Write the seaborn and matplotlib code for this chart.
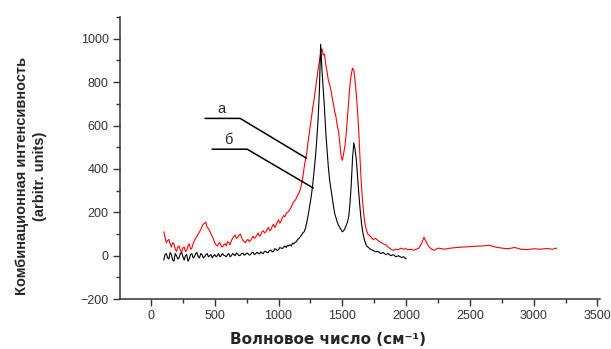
import seaborn as sns
import matplotlib.pyplot as plt
from matplotlib.ticker import MultipleLocator
import pandas as pd

# Raman spectrum, curve "а" (red)
wave_a = [100, 110, 120, 130, 140, 150, 160, 170, 180, 190,
          200, 210, 220, 230, 240, 250, 260, 270, 280, 290,
          300, 310, 320, 330, 340, 350, 360, 370, 380, 390,
          400, 410, 420, 430, 440, 450, 460, 470, 480, 490,
          500, 510, 520, 530, 540, 550, 560, 570, 580, 590,
          600, 610, 620, 630, 640, 650, 660, 670, 680, 690,
          700, 710, 720, 730, 740, 750, 760, 770, 780, 790,
          800, 810, 820, 830, 840, 850, 860, 870, 880, 890,
          900, 910, 920, 930, 940, 950, 960, 970, 980, 990,
          1000, 1010, 1020, 1030, 1040, 1050, 1060, 1070, 1080, 1090,
          1100, 1110, 1120, 1130, 1140, 1150, 1160, 1170, 1180, 1190,
          1200, 1210, 1220, 1230, 1240, 1250, 1260, 1270, 1280, 1290, 1300, 1310, 1320,
          1330, 1340, 1350, 1360, 1370, 1380, 1390, 1400, 1410, 1420, 1430, 1440, 1450,
          1460, 1470, 1480, 1490, 1500, 1510, 1520, 1530, 1540, 1550, 1560, 1570, 1580,
          1590, 1600, 1610, 1620, 1630, 1640, 1650, 1660, 1670, 1680, 1690, 1700,
          1720, 1740, 1760, 1780, 1800, 1820, 1840, 1860, 1880, 1900, 1920, 1940, 1960,
          1980, 2000, 2020, 2040, 2060, 2080, 2100, 2120, 2140, 2160, 2180, 2200, 2220,
          2250, 2300, 2350, 2400, 2450, 2500, 2550, 2600, 2650, 2700, 2750, 2800, 2850,
          2900, 2950, 3000, 3050, 3100, 3150, 3180]
int_a = [110, 85, 60, 70, 75, 55, 40, 60, 55, 30,
         20, 40, 45, 25, 15, 35, 40, 20, 25, 45,
         55, 30, 35, 55, 70, 80, 90, 100, 110, 120,
         135, 145, 150, 155, 130, 125, 115, 100, 90, 75,
         60, 50, 45, 55, 60, 45, 40, 50, 55, 45,
         65, 60, 50, 70, 80, 90, 95, 80, 85, 95,
         100, 85, 70, 65, 60, 70, 75, 65, 70, 80,
         90, 80, 85, 95, 105, 90, 95, 110, 115, 105,
         110, 120, 130, 115, 120, 135, 145, 130, 140, 155,
         165, 150, 160, 175, 185, 180, 195, 200, 205, 215,
         225, 240, 250, 255, 265, 280, 290, 305, 330, 360,
         405, 440, 470, 520, 560, 605, 645, 690, 725, 770, 815, 860, 895,
         935, 955, 925, 930, 880, 850, 810, 790, 765, 730, 700, 665, 640,
         600, 575, 520, 460, 440, 470, 505, 560, 640, 715, 790, 835, 865,
         855, 805, 740, 660, 560, 430, 320, 240, 180, 140, 115, 100,
         90, 75, 80, 70, 62, 55, 50, 40, 30, 25, 30, 28, 35,
         30, 32, 28, 30, 25, 30, 35, 55, 85, 60, 40, 30, 25,
         35, 30, 35, 38, 40, 42, 44, 45, 48, 40, 35, 32, 38,
         30, 28, 32, 30, 33, 30, 35]

# Raman spectrum, curve "б" (black)
wave_b = [100, 110, 120, 130, 140, 150, 160, 170, 180, 190,
          200, 210, 220, 230, 240, 250, 260, 270, 280, 290,
          300, 310, 320, 330, 340, 350, 360, 370, 380, 390,
          400, 410, 420, 430, 440, 450, 460, 470, 480, 490,
          500, 510, 520, 530, 540, 550, 560, 570, 580, 590,
          600, 610, 620, 630, 640, 650, 660, 670, 680, 690,
          700, 710, 720, 730, 740, 750, 760, 770, 780, 790,
          800, 810, 820, 830, 840, 850, 860, 870, 880, 890,
          900, 910, 920, 930, 940, 950, 960, 970, 980, 990,
          1000, 1010, 1020, 1030, 1040, 1050, 1060, 1070, 1080, 1090,
          1100, 1110, 1120, 1130, 1140, 1150, 1160, 1170, 1180, 1190,
          1200, 1210, 1220, 1230, 1240, 1250, 1260, 1270, 1280, 1290, 1300, 1310, 1320,
          1330, 1340, 1350, 1360, 1370, 1380, 1390, 1400, 1410, 1420, 1430, 1440, 1450,
          1460, 1470, 1480, 1490, 1500, 1510, 1520, 1530, 1540, 1550, 1560, 1570, 1580,
          1590, 1600, 1610, 1620, 1630, 1640, 1650, 1660, 1670, 1680, 1690, 1700,
          1720, 1740, 1760, 1780, 1800, 1820, 1840, 1860, 1880, 1900, 1920, 1940, 1960,
          1980, 2000]
int_b = [-20, 5, 10, -10, -15, 15, 5, -20, -25, 10,
         0, -15, -10, 10, 15, -5, -20, 0, 5, -25,
         -15, 5, 10, -10, -5, 10, 15, -5, -10, 10,
         5, -10, -5, 5, 10, -5, 0, 5, -10, 0,
         5, -5, 0, 10, -5, 0, 10, 2, 0, -5,
         5, 10, -5, 0, 10, 5, 0, 12, 8, 0,
         2, 10, 12, 3, 5, 12, 10, 3, 5, 14,
         15, 6, 8, 16, 12, 8, 18, 12, 10, 20,
         20, 14, 15, 25, 25, 18, 20, 32, 30, 24,
         28, 38, 35, 33, 40, 45, 38, 48, 45, 50,
         45, 58, 55, 62, 65, 75, 80, 88, 95, 105,
         110, 125, 150, 180, 215, 250, 290, 340, 400, 460, 540, 630, 760,
         975, 860, 770, 680, 570, 490, 410, 350, 310, 270, 230, 195, 175,
         155, 140, 130, 120, 110, 115, 125, 140, 155, 180, 240, 330, 450,
         520, 490, 440, 360, 280, 210, 150, 110, 80, 60, 45, 40,
         30, 25, 18, 20, 10, 15, 5, 10, 0, 5, -5, 0, -8,
         -5, -15]

df_a = pd.DataFrame({'wave': wave_a, 'intensity': int_a})
df_b = pd.DataFrame({'wave': wave_b, 'intensity': int_b})

sns.set_style('ticks')
plt.rcParams['font.family'] = ['Liberation Sans', 'DejaVu Sans']

fig = plt.figure(figsize=(6.11, 3.49), dpi=100)
ax = fig.add_axes([0.196, 0.143, 0.786, 0.808])

sns.lineplot(data=df_a, x='wave', y='intensity', color='#ff0000', lw=0.8,
             sort=False, estimator=None, ax=ax)
sns.lineplot(data=df_b, x='wave', y='intensity', color='black', lw=0.8,
             sort=False, estimator=None, ax=ax)

# leader lines for curve labels
ax.plot([424, 699, 1217], [633, 633, 450], color='black', lw=1.1)
ax.plot([479, 754, 1272], [491, 491, 312], color='black', lw=1.1)
ax.text(550, 645, 'а', fontsize=10.5, ha='center', va='bottom')
ax.text(605, 500, 'б', fontsize=10.5, ha='center', va='bottom')

ax.set_xlim(-245, 3520)
ax.set_ylim(-200, 1100)
ax.xaxis.set_major_locator(MultipleLocator(500))
ax.xaxis.set_minor_locator(MultipleLocator(250))
ax.yaxis.set_major_locator(MultipleLocator(200))
ax.yaxis.set_minor_locator(MultipleLocator(100))
ax.tick_params(which='major', length=5, width=1, labelsize=9, pad=3,
               colors='#333333')
ax.tick_params(which='minor', length=3, width=1, color='#333333')
sns.despine(ax=ax)
for s in ['left', 'bottom']:
    ax.spines[s].set_color('#333333')
    ax.spines[s].set_linewidth(1.1)

ax.set_xlabel('')
ax.set_ylabel('')
fig.text(0.537, 0.026, 'Волновое число (см⁻¹)', ha='center', va='center',
         fontsize=11, fontweight='bold', family=['DejaVu Sans'])
fig.text(0.051, 0.496, 'Комбинационная интенсивность\n(arbitr. units)',
         rotation=90, ha='center', va='center', multialignment='center',
         fontsize=10.5, fontweight='bold', linespacing=1.4,
         family=['Liberation Sans Narrow', 'Liberation Sans'])

plt.savefig('out.png', dpi=100, facecolor='white')
plt.close()
